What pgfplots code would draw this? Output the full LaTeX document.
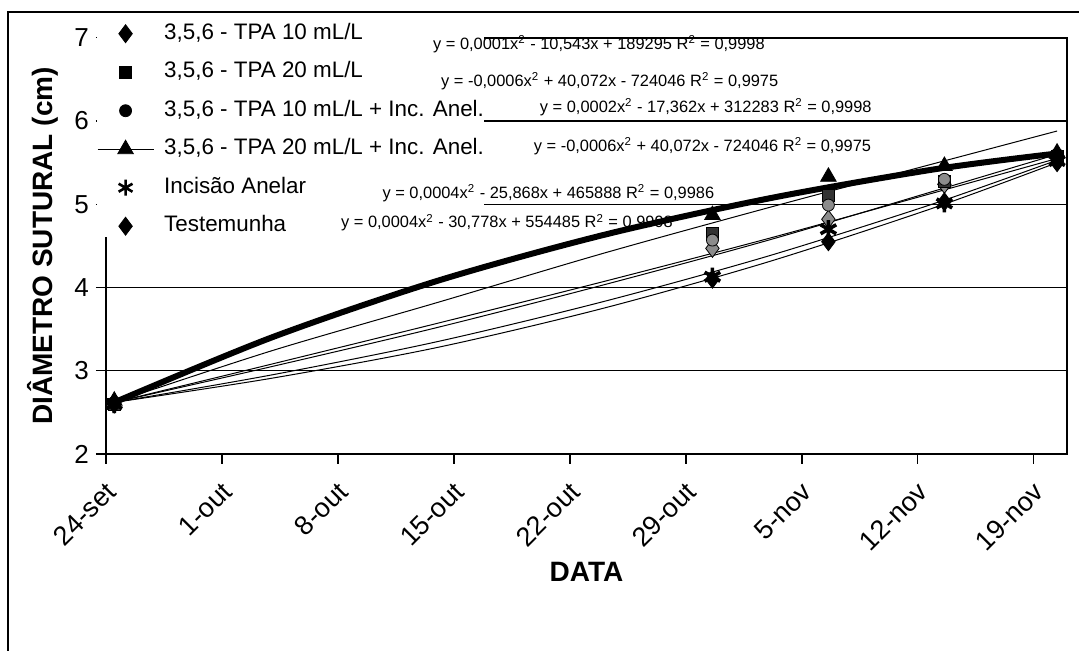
\documentclass[border=0pt]{standalone}
\usepackage{fontspec}
\setmainfont{Liberation Sans}
\usepackage{pgfplots}
\pgfplotsset{compat=1.18}

\begin{document}
\begin{tikzpicture}
\useasboundingbox (-53pt,-98.5pt) rectangle (486.5pt,227pt);
% moldura externa do grafico
\draw[line width=0.8pt] (-49pt,-98.5pt) -- (-49pt,221pt) -- (486.5pt,221pt);
\begin{axis}[
    at={(0,0)}, anchor=south west,
    scale only axis, width=480.5pt, height=208.1pt,
    xmin=0, xmax=58, ymin=2, ymax=7,
    xtick={0,7,...,56},
    xticklabels={24-set,1-out,8-out,15-out,22-out,29-out,5-nov,12-nov,19-nov},
    ytick={2,...,7},
    xtick pos=bottom, ytick pos=left,
    tick align=outside, major tick length=5pt,
    tick style={black, line width=0.6pt},
    ymajorgrids, grid style={black, line width=0.6pt},
    axis line style={line width=0.8pt},
    /pgf/number format/assume math mode=true,
    xticklabel style={font=\fontsize{13.5}{15}\selectfont, rotate=45, anchor=east, yshift=-10pt, xshift=-3pt},
    yticklabel style={font=\fontsize{13}{15}\selectfont},
    xlabel={\textbf{DATA}},
    ylabel={\textbf{DIÂMETRO SUTURAL (cm)}},
    xlabel style={font=\fontsize{14}{16}\selectfont, at={(axis description cs:0.5,0)}, anchor=center, yshift=-59pt},
    ylabel style={font=\fontsize{14}{16}\selectfont, at={(axis description cs:-0.0656,0.5)}, anchor=center},
    clip mode=individual,
    legend style={draw=none, fill=white, inner sep=0pt, outer sep=0pt,
        at={(axis description cs:-0.0094,1.035)}, anchor=north west,
        font=\fontsize{11.2}{13}\selectfont,
        nodes={inner sep=0pt, text height=8pt, text depth=2.5pt},
        column 2/.style={nodes={text width=166pt, align=left}},
        row sep=8.75pt, column sep=5pt},
    legend cell align=left,
]
% linhas de tendencia
\addplot[black, line width=0.5pt, smooth, forget plot] coordinates {(0.5,2.62)(10,3.08)(20,3.57)(30,4.07)(40,4.59)(50,5.14)(57.4,5.55)};
\addplot[black, line width=0.5pt, smooth, forget plot] coordinates {(0.5,2.62)(10,3.24)(20,3.82)(30,4.41)(40,4.96)(50,5.49)(57.4,5.88)};
\addplot[black, line width=0.5pt, smooth, forget plot] coordinates {(0.5,2.62)(10,3.05)(20,3.52)(30,4.03)(40,4.57)(50,5.16)(57.4,5.60)};
\addplot[black, line width=0.5pt, smooth, forget plot] coordinates {(0.5,2.62)(10,2.95)(20,3.35)(30,3.83)(40,4.38)(50,5.01)(57.4,5.53)};
\addplot[black, line width=0.5pt, smooth, forget plot] coordinates {(0.5,2.62)(10,2.91)(20,3.28)(30,3.75)(40,4.31)(50,4.96)(57.4,5.50)};
\addplot[black, line width=3pt, smooth, forget plot] coordinates {(0.5,2.62)(10,3.40)(20,4.08)(30,4.63)(40,5.07)(50,5.42)(57.4,5.61)};

% posicoes das equacoes (escritas depois da legenda)
\coordinate (e1) at (axis cs:29.75,6.925);
\coordinate (e2) at (axis cs:30.4,6.48);
\coordinate (e3) at (axis cs:36.2,6.17);
\coordinate (e4) at (axis cs:36.0,5.70);
\coordinate (e5) at (axis cs:26.7,5.13);
\coordinate (e6) at (axis cs:24.2,4.78);

% dados
\addplot[only marks, mark=diamond*, mark size=4.5pt, draw=black, fill=black!45,
    legend image code/.code={\path[draw=none, fill=none] (0pt,-4.5pt) rectangle (28pt,4.5pt); \draw[black, fill=black, mark=diamond*, mark size=4.5pt] plot coordinates {(14pt,0pt)};}]
    coordinates {(0.5,2.62)(36.6,4.47)(43.6,4.82)(50.6,5.24)(57.4,5.55)};
\addplot[only marks, mark=square*, mark size=3pt, draw=black, fill=black!80,
    legend image code/.code={\path[draw=none, fill=none] (0pt,-4.5pt) rectangle (28pt,4.5pt); \draw[black, fill=black, mark=square*, mark size=3pt] plot coordinates {(14pt,0pt)};}]
    coordinates {(0.5,2.60)(36.6,4.65)(43.6,5.11)(50.6,5.28)(57.4,5.58)};
\addplot[only marks, mark=*, mark size=3pt, draw=black, fill=black!45,
    legend image code/.code={\path[draw=none, fill=none] (0pt,-4.5pt) rectangle (28pt,4.5pt); \draw[black, fill=black, mark=*, mark size=3pt] plot coordinates {(14pt,0pt)};}]
    coordinates {(0.5,2.62)(36.6,4.57)(43.6,4.99)(50.6,5.30)(57.4,5.60)};
\addplot[only marks, mark=triangle*, mark size=4.5pt, black,
    legend image code/.code={\path[draw=none, fill=none] (0pt,-4.5pt) rectangle (28pt,4.5pt); \draw[black, line width=0.6pt] (0pt,0pt) -- (28pt,0pt); \draw[black, fill=black, mark=triangle*, mark size=4.5pt] plot coordinates {(14pt,0pt)};}]
    coordinates {(0.5,2.64)(36.6,4.87)(43.6,5.33)(50.6,5.46)(57.4,5.62)};
\addplot[only marks, mark=asterisk, mark size=4.5pt, black, line width=1.8pt,
    legend image code/.code={\path[draw=none, fill=none] (0pt,-4.5pt) rectangle (28pt,4.5pt); \draw[black, line width=1.3pt, mark=asterisk, mark size=4pt] plot coordinates {(14pt,0pt)};}]
    coordinates {(0.5,2.60)(36.6,4.13)(43.6,4.70)(50.6,5.01)(57.4,5.52)};
\addplot[only marks, mark=diamond*, mark size=4.5pt, black,
    legend image code/.code={\path[draw=none, fill=none] (0pt,-4.5pt) rectangle (28pt,4.5pt); \draw[black, fill=black, mark=diamond*, mark size=4.5pt] plot coordinates {(14pt,0pt)};}]
    coordinates {(0.5,2.60)(36.6,4.10)(43.6,4.55)(50.6,5.03)(57.4,5.50)};
\legend{{3,5,6 - TPA 10 mL/L}, {3,5,6 - TPA 20 mL/L}, {3,5,6 - TPA 10 mL/L + Inc. Anel.}, {3,5,6 - TPA 20 mL/L + Inc. Anel.}, {Incisão Anelar}, {Testemunha}}
\end{axis}
% equacoes das linhas de tendencia
\begin{scope}[every node/.style={font=\fontsize{8.2}{9}\selectfont, inner sep=0pt}]
\node at (e1) {y = 0,0001x\textsuperscript{2} - 10,543x + 189295 R\textsuperscript{2} = 0,9998};
\node at (e2) {y = -0,0006x\textsuperscript{2} + 40,072x - 724046 R\textsuperscript{2} = 0,9975};
\node at (e3) {y = 0,0002x\textsuperscript{2} - 17,362x + 312283 R\textsuperscript{2} = 0,9998};
\node at (e4) {y = -0,0006x\textsuperscript{2} + 40,072x - 724046 R\textsuperscript{2} = 0,9975};
\node at (e5) {y = 0,0004x\textsuperscript{2} - 25,868x + 465888 R\textsuperscript{2} = 0,9986};
\node at (e6) {y = 0,0004x\textsuperscript{2} - 30,778x + 554485 R\textsuperscript{2} = 0,9998};
\end{scope}
\end{tikzpicture}
\end{document}
